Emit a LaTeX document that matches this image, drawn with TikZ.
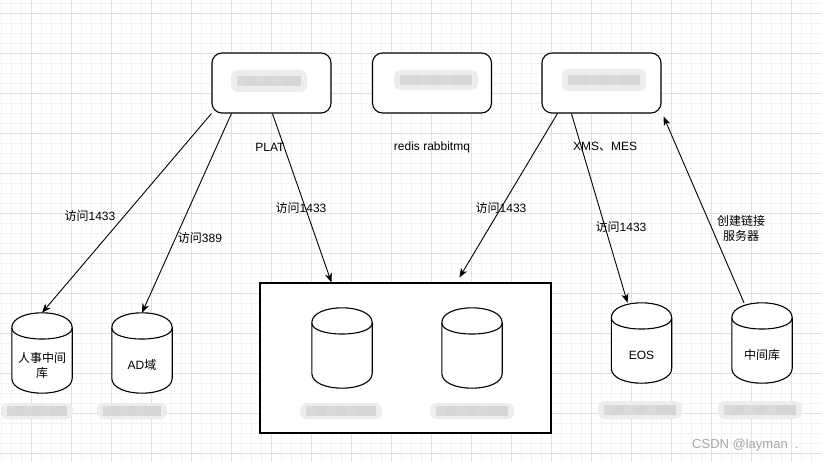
\documentclass[tikz,border=0pt]{standalone}
\usepackage{fontspec}
\setmainfont{Liberation Sans}
\newfontfamily\cjk{Noto Sans CJK SC}
\usetikzlibrary{arrows.meta,calc}
\definecolor{minorgrid}{HTML}{F3F3F3}
\definecolor{majorgrid}{HTML}{E0E0E0}
\definecolor{blurc}{HTML}{D6D6D8}
\definecolor{blurl}{HTML}{EDEDED}
\tikzset{
  sbox/.style={draw=black, line width=1.1pt, rounded corners=10pt, minimum width=119pt, minimum height=60pt, inner sep=0pt, fill=white},
  bigbox/.style={draw=black, line width=1.1pt, minimum width=291pt, minimum height=150pt, inner sep=0pt, fill=white},
  cylbox/.style={minimum width=60pt, minimum height=80pt, inner sep=0pt},
  cylline/.style={draw=black, line width=1.1pt, fill=white},
  lbl/.style={font=\fontsize{12}{15}\selectfont, text=black, inner sep=1pt, align=center},
  conn/.style={draw=black, line width=0.9pt, -{Stealth[length=9pt,width=7pt,inset=2.5pt]}},
  blurbox/.style={fill=blurl, rounded corners=7pt, inner sep=0pt},
}
\newcommand\mycyl[4]{%
  \node[cylbox] (#1) at (#2,#3) {};
  \path[cylline] ($(#1.north west)+(0,15)$) .. controls ($(#1.north west)+(0,-5)$) and ($(#1.north east)+(0,-5)$) .. ($(#1.north east)+(0,15)$)
     -- ($(#1.south east)+(0,-15)$) .. controls ($(#1.south east)+(0,5)$) and ($(#1.south west)+(0,5)$) .. ($(#1.south west)+(0,-15)$) -- cycle;
  \draw[line width=1.1pt] ($(#1.north west)+(0,15)$) .. controls ($(#1.north west)+(0,30)$) and ($(#1.north east)+(0,30)$) .. ($(#1.north east)+(0,15)$);
  \node[lbl] (#1-t) at ($(#1.center)+(0,12)$) {#4};
}
\newcommand\myblur[5]{%
  \node[blurbox, minimum width=#4pt, minimum height=#5pt] (#1) at (#2,#3) {};
  \fill[blurc] ($(#1.west)+(6,-5)$) rectangle ($(#1.east)+(-6,5)$);
  \foreach \k in {0,2,4} {
    \fill[gray!30] ($(#1.west)+(6,-5)+({(#4-12)*\k/7},0)$) rectangle ($(#1.west)+(6,5)+({(#4-12)*(\k+1)/7},0)$);
  }
}
\begin{document}
\begin{tikzpicture}[x=1pt,y=-1pt]
\useasboundingbox (0,0) rectangle (821,462);
\fill[white] (0,0) rectangle (821,462);
% grid
\foreach \x in {1,11,...,821} \draw[minorgrid, line width=0.8pt] (\x,0) -- (\x,462);
\foreach \y in {3,13,...,462} \draw[minorgrid, line width=0.8pt] (0,\y) -- (821,\y);
\foreach \x in {31,71,...,821} \draw[majorgrid, line width=0.9pt] (\x,0) -- (\x,462);
\foreach \y in {13,53,...,462} \draw[majorgrid, line width=0.9pt] (0,\y) -- (821,\y);

% top boxes
\node[sbox] (b1) at (271.5,83) {};
\node[sbox] (b2) at (432,83) {};
\node[sbox] (b3) at (601.5,83) {};
\myblur{b1blur}{269}{81}{76}{22}
\myblur{b2blur}{436}{80}{84}{20}
\myblur{b3blur}{604}{80}{84}{22}

% big rectangle
\node[bigbox] (big) at (405.5,358) {};

% cylinders
\mycyl{hr}{42}{353}{{\cjk 人事中间}\\{\cjk 库}}
\mycyl{ad}{142}{353}{AD{\cjk 域}}
\mycyl{dba}{342}{348}{}
\mycyl{dbb}{472}{348}{}
\mycyl{eos}{641.5}{343}{EOS}
\mycyl{mid}{762}{343}{{\cjk 中间库}}

% blurred captions
\myblur{hrblur}{37}{411}{72}{16}
\myblur{adblur}{132}{411}{70}{16}
\myblur{dbablur}{341}{411}{82}{16}
\myblur{dbbblur}{472}{411}{84}{16}
\myblur{eosblur}{640}{410}{84}{18}
\myblur{midblur}{760}{410}{84}{18}

% connectors
\draw[conn] (b1.south west) -- (hr.north);
\draw[conn] ([xshift=20pt]b1.south west) -- (ad.north);
\draw[conn] ([xshift=61pt]b1.south west) -- ([xshift=72pt]big.north west);
\draw[conn] ([xshift=16pt]b3.south west) -- ([xshift=200pt,yshift=5pt]big.north west);
\draw[conn] ([xshift=30pt]b3.south west) -- ([xshift=-14pt]eos.north);
\draw[conn] ([xshift=-18pt]mid.north) -- ([xshift=2pt,yshift=-3pt]b3.south east);

% labels
\node[lbl] (lplat) at (270,147) {PLAT};
\node[lbl] (lredis) at (432,147) {redis rabbitmq};
\node[lbl] (lxms) at (605,147) {XMS{\cjk 、}MES};
\node[lbl] (l1) at (90,216) {{\cjk 访问}1433};
\node[lbl] (l2) at (200,238) {{\cjk 访问}389};
\node[lbl] (l3) at (301,208) {{\cjk 访问}1433};
\node[lbl] (l4) at (501,208) {{\cjk 访问}1433};
\node[lbl] (l5) at (621,227) {{\cjk 访问}1433};
\node[lbl] (l6) at (741,228) {{\cjk 创建链接}\\{\cjk 服务器}};

% watermark
\node[anchor=west, font=\fontsize{13}{15}\selectfont, text=gray!70, inner sep=0pt] (csdn) at (692,445) {CSDN @layman\ \ .};
\end{tikzpicture}
\end{document}
